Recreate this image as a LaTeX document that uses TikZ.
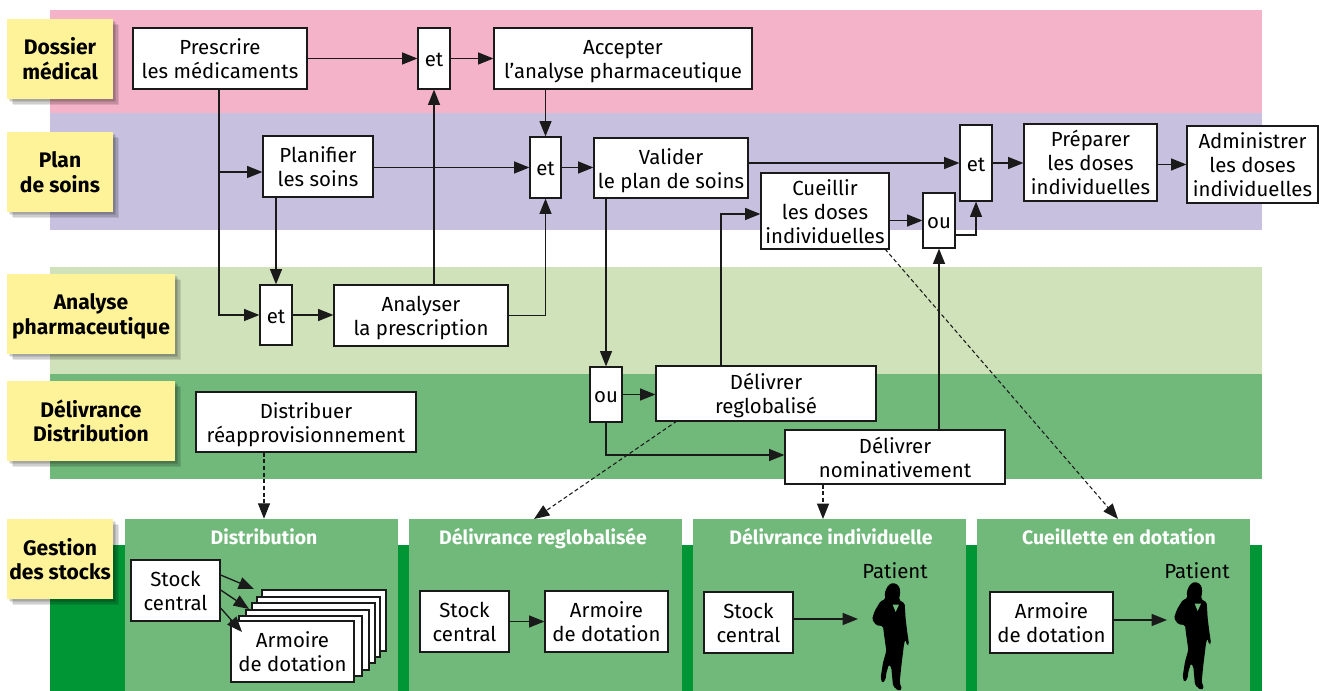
\documentclass[tikz,border=0pt]{standalone}
\usepackage{fontspec}
\setmainfont{Fira Sans}
\usetikzlibrary{arrows.meta,calc}
\definecolor{cpink}{HTML}{F4B3C8}
\definecolor{cpurple}{HTML}{C7C1DF}
\definecolor{clight}{HTML}{CFE2B9}
\definecolor{cmid}{HTML}{71B87B}
\definecolor{cdark}{HTML}{009535}
\definecolor{cyel}{HTML}{FFF399}
\definecolor{cline}{HTML}{1A1A1A}
\newcommand{\lowtxt}[2]{\raisebox{-#1}[\height][\depth]{\begin{tabular}{@{}c@{}}#2\end{tabular}}}
\tikzset{
 x=0.75pt,y=-0.75pt,
 bx/.style={draw=cline,line width=0.9pt,fill=white,inner sep=0pt,font=\fontsize{15.3}{18}\selectfont,anchor=center},
 lab/.style={fill=cyel,font=\fontsize{15.8}{18}\selectfont\bfseries,
   preaction={fill=black,opacity=.10,transform canvas={shift={(1.5pt,-1.5pt)}}},
   preaction={fill=black,opacity=.10,transform canvas={shift={(2.5pt,-2.5pt)}}},
   preaction={fill=black,opacity=.10,transform canvas={shift={(3.5pt,-3.5pt)}}},
   preaction={fill=black,opacity=.10,transform canvas={shift={(4.5pt,-4.5pt)}}}},
 ttl/.style={text=white,font=\fontsize{14.6}{16}\selectfont\bfseries,text height=14pt,text depth=3pt},
 plain/.style={font=\fontsize{15.3}{18}\selectfont,text height=11pt,text depth=0pt},
 arr/.style={draw=cline,line width=1pt,-{Triangle[length=11.5pt,width=9pt]}},
 dsh/.style={draw=cline,line width=0.8pt,densely dashed,-{Triangle[length=11.5pt,width=9pt]}},
}
\newcommand{\nbox}[6]{\node[bx,minimum width=#4*0.75pt-#2*0.75pt,minimum height=#5*0.75pt-#3*0.75pt] (#1) at ({(#2+#4)/2},{(#3+#5)/2}) {\lowtxt{2.7pt}{#6}};}
\newcommand{\lbox}[6]{\node[lab,inner sep=0pt,minimum width=#4*0.75pt-#2*0.75pt,minimum height=#5*0.75pt-#3*0.75pt] (#1) at ({(#2+#4)/2},{(#3+#5)/2}) {\lowtxt{2.5pt}{#6}};}
\newcommand{\woman}[1]{%
 \begin{scope}[shift={(#1)},x=0.25pt,y=-0.25pt,shift={(-96,-186)}]
 \fill[rounded corners=1.2pt] (105,20) -- (122,28) -- (127,45) -- (125,60) -- (123,72) -- (140,82) -- (143,130) -- (148,170) -- (153,205) -- (148,210) -- (142,190) -- (138,205) -- (130,270) -- (125,320) -- (132,340) -- (122,345) -- (105,330) -- (100,275) -- (93,265) -- (85,290) -- (83,310) -- (73,322) -- (68,305) -- (75,260) -- (85,225) -- (78,175) -- (75,150) -- (55,148) -- (42,130) -- (50,105) -- (68,75) -- (82,70) -- (80,50) -- (90,28) -- cycle;
 \fill[cmid] (104,86) -- (123,86) -- (113,108) -- cycle;
 \end{scope}}
\begin{document}
\begin{tikzpicture}
\useasboundingbox (0,0) rectangle (1325,691);
\fill[cpink] (50,10) rectangle (1262,113);
\fill[cpurple] (50,113) rectangle (1262,230);
\fill[clight] (50,267) rectangle (1262,374);
\fill[cmid] (50,374) rectangle (1262,479);
\fill[cdark] (50,545) rectangle (1262,691);
\node[fill=cmid,minimum width=273*0.75pt,minimum height=172*0.75pt,inner sep=0pt] (p1) at (261.5,605) {};
\node[fill=cmid,minimum width=273*0.75pt,minimum height=172*0.75pt,inner sep=0pt] (p2) at (545.5,605) {};
\node[fill=cmid,minimum width=273*0.75pt,minimum height=172*0.75pt,inner sep=0pt] (p3) at (829.5,605) {};
\node[fill=cmid,minimum width=273*0.75pt,minimum height=172*0.75pt,inner sep=0pt] (p4) at (1113.5,605) {};
\node[ttl] (t1) at (264,537) {Distribution};
\node[ttl] (t2) at (543,537) {Délivrance reglobalisée};
\node[ttl] (t3) at (831,537) {Délivrance individuelle};
\node[ttl] (t4) at (1119,537) {Cueillette en dotation};
\lbox{l1}{7}{19}{113}{99}{Dossier\\médical}
\lbox{l2}{7}{132}{113}{212}{Plan\\de soins}
\lbox{l3}{7}{274}{175}{354}{Analyse\\pharmaceutique}
\lbox{l4}{7}{381}{175}{461}{Délivrance\\Distribution}
\lbox{l5}{7}{519}{113}{599}{Gestion\\des stocks}
\nbox{presc}{133}{28}{307}{89}{Prescrire\\les médicaments}
\nbox{et1}{418}{28}{450}{89}{et}
\nbox{acc}{494}{28}{752}{89}{Accepter\\l’analyse pharmaceutique}
\nbox{plan}{263}{136}{373}{197}{Planifier\\les soins}
\nbox{et2}{530}{137}{561}{198}{et}
\nbox{val}{594}{138}{748}{198}{Valider\\le plan de soins}
\nbox{et3}{960}{125}{992}{201}{et}
\nbox{cue}{761}{173}{889}{249}{Cueillir\\les doses\\individuelles}
\nbox{ou1}{923}{193}{955}{248}{ou}
\nbox{pre}{1024}{124}{1157}{201}{Préparer\\les doses\\individuelles}
\nbox{adm}{1187}{126}{1318}{203}{Administrer\\les doses\\individuelles}
\nbox{et4}{260}{285}{292}{345}{et}
\nbox{ana}{334}{285}{508}{346}{Analyser\\la prescription}
\nbox{ou2}{590}{367}{622}{422}{ou}
\nbox{reg}{656}{366}{876}{421}{Délivrer\\reglobalisé}
\nbox{dis}{196}{392}{416}{452}{Distribuer\\réapprovisionnement}
\nbox{nom}{785}{430}{1005}{484}{Délivrer\\nominativement}
% panel 1
\nbox{s1e}{262}{590}{386}{651}{}
\nbox{s1d}{257}{597}{380}{657}{}
\nbox{s1c}{252}{603}{375}{663}{}
\nbox{s1b}{246}{610}{369}{670}{}
\nbox{s1a}{239}{616}{362}{676}{}
\nbox{arm1}{231}{621}{354}{682}{Armoire\\de dotation}
\nbox{sc1}{131}{560}{220}{621}{Stock\\central}
\coordinate (h1) at (254,589);
\coordinate (h2) at (249,609);
\coordinate (h3) at (242,632);
\draw[arr] (sc1.east |- 0,575) -- (h1);
\draw[arr] (sc1.east |- 0,590) -- (h2);
\draw[arr] (sc1.east |- 0,608) -- (h3);
% panel 2
\nbox{sc2}{420}{591}{509}{652}{Stock\\central}
\nbox{arm2}{545}{591}{668}{652}{Armoire\\de dotation}
\draw[arr] (sc2) -- (arm2);
% panel 3
\nbox{sc3}{704}{592}{793}{653}{Stock\\central}
\node[plain] (pt3) at (895,571) {Patient};
\woman{890,638}
\coordinate (w3) at (858,619);
\draw[arr] (sc3.east |- w3) -- (w3);
% panel 4
\nbox{arm4}{990}{592}{1113}{653}{Armoire\\de dotation}
\node[plain] (pt4) at (1197,571) {Patient};
\woman{1192,637}
\coordinate (w4) at (1167,620);
\draw[arr] (arm4.east |- w4) -- (w4);
% connectors
\draw[arr] (presc.east) -- (et1.west);
\draw[arr] (et1.east) -- (acc.west);
\coordinate (j1) at (219,172);
\draw[arr] (presc.south -| j1) -- (j1 |- et4.west) -- (et4.west);
\draw[arr] (j1) -- (plan.west |- j1);
\draw[arr] (plan.east |- et2.west) -- (et2.west);
\draw[arr] (plan.south -| et4.north) -- (et4.north);
\draw[arr] (et4.east) -- (ana.west |- et4.east);
\draw[arr] (ana.north -| et1.south) -- (et1.south);
\draw[arr] (ana.east) -| (et2.south);
\draw[arr] (acc.south -| et2.north) -- (et2.north);
\draw[arr] (et2.east) -- (val.west |- et2.east);
\draw[arr] (val.east |- et3.west) -- (et3.west);
\draw[arr] (et3.east) -- (pre.west |- et3.east);
\draw[arr] (pre.east |- adm.west) -- (adm.west);
\draw[arr] (val.south -| ou2.north) -- (ou2.north);
\draw[arr] (ou2.east) -- (reg.west |- ou2.east);
\coordinate (j2) at (606,455);
\draw[arr] (ou2.south) -- (j2) -- (nom.west |- j2);
\coordinate (j3) at (721,214);
\draw[arr] (reg.north -| j3) -- (j3) -- (cue.west |- j3);
\draw[arr] (cue.east |- ou1.west) -- (ou1.west);
\coordinate (j4) at (955,235);
\draw[arr] (j4) -| (et3.south);
\draw[arr] (nom.north -| ou1.south) -- (ou1.south);
\coordinate (d1) at (677,421);
\coordinate (d2) at (534,519);
\coordinate (d3) at (885,249);
\coordinate (d4) at (1118,519);
\draw[dsh] (dis.south -| t1.north) -- (p1.north -| t1.north);
\draw[dsh] (d1) -- (d2);
\coordinate (d5) at (823,519);
\draw[dsh] (nom.south -| d5) -- (d5);
\draw[dsh] (d3) -- (d4);
\end{tikzpicture}
\end{document}
